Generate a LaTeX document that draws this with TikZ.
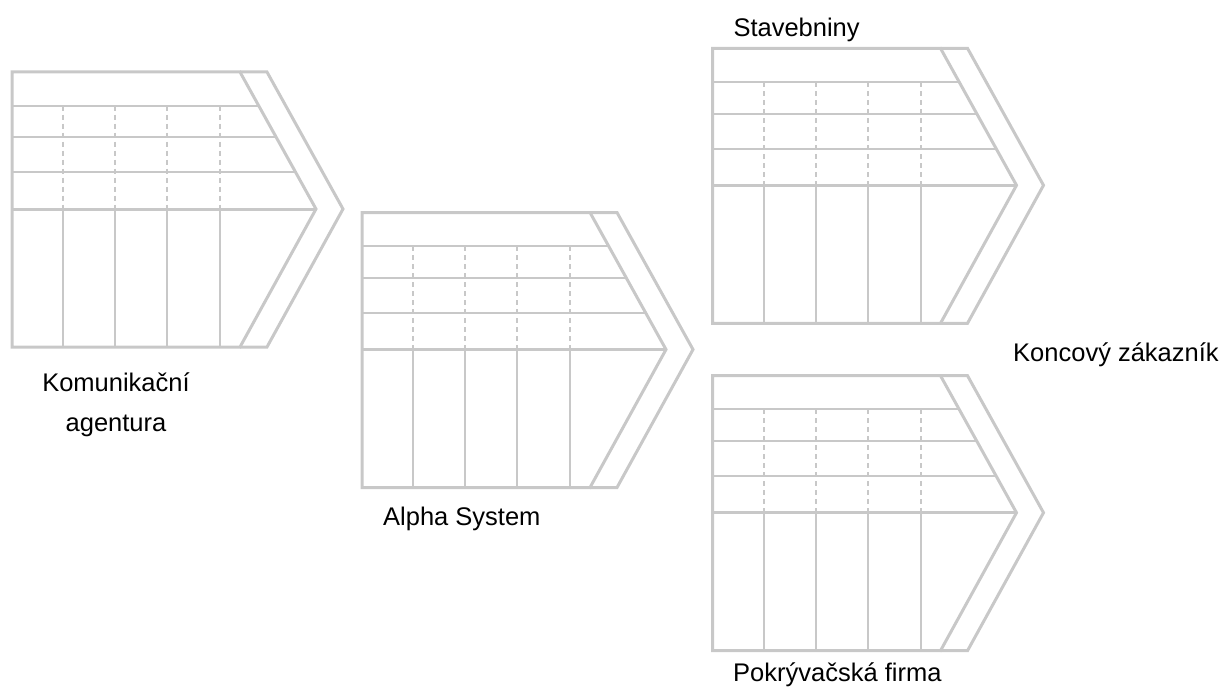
\documentclass[tikz,border=0pt]{standalone}
\usepackage{fontspec}
\setmainfont{Liberation Sans}
\definecolor{chaingray}{RGB}{200,200,200}
\tikzset{
  outerline/.style={draw=chaingray, line width=3pt, line join=miter},
  innerline/.style={draw=chaingray, line width=2pt},
  dashline/.style={draw=chaingray, line width=2pt, dash pattern=on 5pt off 4pt},
  lbl/.style={inner sep=0pt, font=\fontsize{25.5}{40}\selectfont, text=black},
  vc/.pic={
    \draw[outerline] (0,0) -- (228,0) -- (304,137) -- (228,275) -- (0,275) -- cycle;
    \draw[outerline] (228,0) -- (255,0) -- (331,137) -- (255,275) -- (228,275);
    \draw[outerline] (0,137) -- (304,137);
    \foreach \yy in {33.7,65.3,100.3} {
      \draw[innerline] (0,\yy) -- ({228+76*\yy/137},\yy);
    }
    \foreach \xx in {51,103,155,208} {
      \draw[innerline] (\xx,137) -- (\xx,275);
      \draw[dashline] (\xx,33.7) -- (\xx,137);
    }
  }
}
\begin{document}
\begin{tikzpicture}[x=1pt,y=-1pt]
\useasboundingbox (0,0) rectangle (1223,693);
\pic at (12,72) {vc};
\pic at (362,212.5) {vc};
\pic at (712.5,48.3) {vc};
\pic at (712.5,375.7) {vc};
\node[lbl, anchor=base, align=center] (komunikacni) at (116,431.7) {Komunikační\\agentura};
\node[lbl, anchor=base west] (alpha) at (383,525) {Alpha System};
\node[lbl, anchor=base west] (stavebniny) at (733.3,36.7) {Stavebniny};
\node[lbl, anchor=base west] (pokryvacska) at (733,681.7) {Pokrývačská firma};
\node[lbl, anchor=base west] (koncovy) at (1013,361.7) {Koncový zákazník};
\end{tikzpicture}
\end{document}
